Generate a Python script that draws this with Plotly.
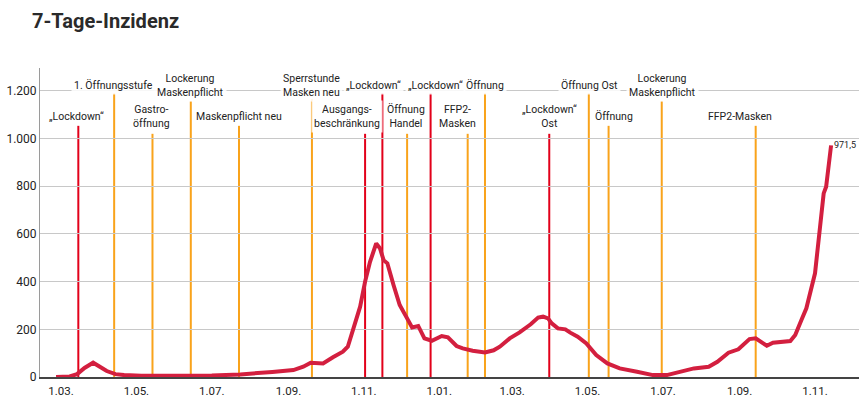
import plotly.graph_objects as go

# 7-Tage-Inzidenz
dates = [
    "2020-02-26", "2020-03-08", "2020-03-14", "2020-03-20", "2020-03-27", "2020-04-01",
    "2020-04-07", "2020-04-14", "2020-04-21", "2020-05-05", "2020-06-01", "2020-07-01",
    "2020-07-24", "2020-08-06", "2020-08-19", "2020-09-05", "2020-09-13", "2020-09-19",
    "2020-09-29", "2020-10-07", "2020-10-15", "2020-10-19", "2020-10-23", "2020-10-29",
    "2020-11-02", "2020-11-06", "2020-11-11", "2020-11-14", "2020-11-17", "2020-11-20",
    "2020-11-25", "2020-11-30", "2020-12-06", "2020-12-10", "2020-12-15", "2020-12-20",
    "2020-12-26", "2021-01-03", "2021-01-08", "2021-01-15", "2021-01-20", "2021-01-28",
    "2021-02-07", "2021-02-14", "2021-02-19", "2021-02-27", "2021-03-07", "2021-03-16",
    "2021-03-22", "2021-03-26", "2021-03-30", "2021-04-02", "2021-04-07", "2021-04-13",
    "2021-04-17", "2021-04-23", "2021-04-30", "2021-05-08", "2021-05-17", "2021-05-27",
    "2021-06-10", "2021-06-23", "2021-07-04", "2021-07-15", "2021-07-26", "2021-08-07",
    "2021-08-14", "2021-08-23", "2021-08-31", "2021-09-09", "2021-09-14", "2021-09-23",
    "2021-09-28", "2021-10-12", "2021-10-16", "2021-10-21", "2021-10-25", "2021-11-01",
    "2021-11-04", "2021-11-08", "2021-11-10", "2021-11-14",
]
incidence = [
    0, 2, 12, 38, 60, 45,
    25, 12, 8, 5, 4, 6,
    11, 14, 21, 29, 43, 60,
    57, 83, 106, 127, 197, 295,
    400, 483, 560, 540, 490, 477,
    386, 302, 246, 208, 214, 162,
    152, 172, 166, 130, 120, 110,
    103, 112, 127, 162, 187, 221,
    249, 253, 246, 225, 204, 200,
    186, 169, 141, 92, 57, 36,
    22, 8, 8, 23, 36, 43,
    64, 102, 116, 159, 162, 131,
    144, 151, 176, 239, 288, 435,
    574, 770, 798, 971.5,
]

# events (vertical markers)
event_dates = [
    "2020-03-15", "2020-04-13", "2020-05-14", "2020-06-14", "2020-07-23", "2020-09-20",
    "2020-11-02", "2020-11-16", "2020-12-06", "2020-12-25", "2021-01-24", "2021-02-07",
    "2021-03-31", "2021-05-02", "2021-05-18", "2021-06-30", "2021-09-14",
]
event_labels = [
    "„Lockdown“", "1. Öffnungsstufe", "Gastro-<br>öffnung", "Lockerung<br>Maskenpflicht",
    "Maskenpflicht neu", "Sperrstunde<br>Masken neu", "Ausgangs-<br>beschränkung",
    "„Lockdown“", "Öffnung<br>Handel", "„Lockdown“", "FFP2-<br>Masken", "Öffnung",
    "„Lockdown“<br>Ost", "Öffnung Ost", "Öffnung", "Lockerung<br>Maskenpflicht", "FFP2-Masken",
]
event_heights = [1054, 1190, 1020, 1157, 1054, 1165, 1020, 1190, 1020, 1190, 1020, 1190,
                 1020, 1190, 1054, 1157, 1054]
event_type = ["lockdown", "open", "open", "open", "open", "open", "lockdown", "lockdown",
              "open", "lockdown", "open", "open", "lockdown", "open", "open", "open", "open"]
# label row: upper or lower
event_row = ["low", "up", "low", "up", "low", "up", "low", "up", "low", "up", "low", "up",
             "low", "up", "low", "up", "low"]

tick_dates = ["2020-03-01", "2020-05-01", "2020-07-01", "2020-09-01", "2020-11-01",
              "2021-01-01", "2021-03-01", "2021-05-01", "2021-07-01", "2021-09-01", "2021-11-01"]
tick_labels = ["1.03.", "1.05.", "1.07.", "1.09.", "1.11.",
               "1.01.", "1.03.", "1.05.", "1.07.", "1.09.", "1.11."]

FONT = "Roboto"
RED = "#e2001a"
ORANGE = "#f9a31b"
CURVE = "#d31f3f"
TEXT = "#222222"

# label nudges so the texts don't collide (pixels)
label_shift = [-2, -1, -1, 0, 0, 0, -18, -9, -1, 5, -10, 0, 0, 1, 5, 1, -16]

fig = go.Figure()

for d, h, t in zip(event_dates, event_heights, event_type):
    fig.add_shape(type="line", x0=d, x1=d, y0=0, y1=h, xref="x", yref="y",
                  line=dict(color=RED if t == "lockdown" else ORANGE, width=2), layer="below")

fig.add_trace(go.Scatter(x=dates, y=incidence, mode="lines",
                         line=dict(color=CURVE, width=4), hoverinfo="x+y", showlegend=False))

for d, row, lab, sh in zip(event_dates, event_row, event_labels, label_shift):
    ylab = 1224 if row == "up" else 1091
    fig.add_annotation(x=d, y=ylab, text=lab, showarrow=False, xshift=sh,
                       xanchor="center", yanchor="middle",
                       bgcolor="rgba(255,255,255,0.85)", borderpad=2,
                       font=dict(family=FONT, size=10.5, color=TEXT))

last_val = incidence[-1]
fig.add_annotation(x=dates[-1], y=last_val, text=f"{last_val:.1f}".replace(".", ","),
                   showarrow=False, xanchor="left", yanchor="middle", xshift=1,
                   font=dict(family=FONT, size=9, color=TEXT))

fig.update_layout(
    width=859, height=406,
    margin=dict(l=40, r=0, t=68, b=29),
    paper_bgcolor="white", plot_bgcolor="white",
    separators=",.",
    font=dict(family=FONT, size=11.5, color=TEXT),
    title=dict(text="<b>7-Tage-Inzidenz</b>", x=32 / 859, xanchor="left", xref="container",
               y=1 - 21 / 406, yanchor="middle", yref="container",
               font=dict(family=FONT, size=20, color="#2a2a2a")),
    showlegend=False,
)
fig.update_xaxes(
    range=["2020-02-13", "2021-12-06 14:00"],
    tickvals=tick_dates, ticktext=tick_labels,
    showgrid=False, showline=True, linecolor="#444444", linewidth=1.5,
    ticks="outside", ticklen=2, tickcolor="rgba(0,0,0,0)",
    tickfont=dict(family=FONT, size=11.5, color=TEXT),
    zeroline=False,
)
fig.update_yaxes(
    range=[0, 1296],
    tickvals=[0, 200, 400, 600, 800, 1000, 1200], tickformat=",",
    showgrid=True, gridcolor="#c8c8c8", gridwidth=1,
    showline=True, linecolor="#9a9a9a", linewidth=1,
    zeroline=False,
    tickfont=dict(family=FONT, size=12, color=TEXT),
)

# page body has a default 8px margin; drop it so the figure sits at the window origin
fig.write_html("out.html", config={"displayModeBar": False},
               post_script="document.body.style.margin='0';")
